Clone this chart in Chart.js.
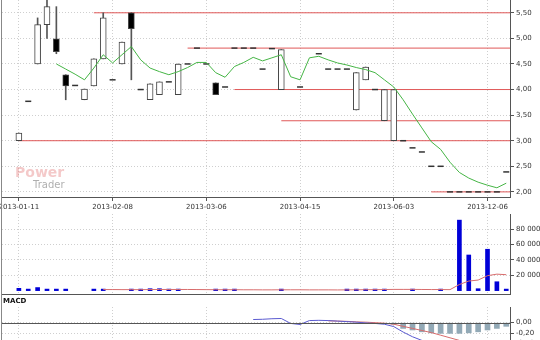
<!DOCTYPE html>
<html>
<head>
<meta charset="utf-8">
<script src="https://cdn.jsdelivr.net/npm/chart.js@4.4.1/dist/chart.umd.min.js"></script>
<style>
  html, body { margin: 0; padding: 0; background: #fff; overflow: hidden; }
  #wrap { position: relative; width: 540px; height: 340px; overflow: hidden; }
  .panel { position: absolute; left: 0; width: 540px; }
  #leftLine { position: absolute; left: 1px; top: 0; width: 1px; height: 340px; background: #888; }
</style>
</head>
<body>
<div id="wrap">
  <div class="panel" style="top:0;height:212px"><canvas id="priceChart" width="540" height="212"></canvas></div>
  <div class="panel" style="top:212px;height:84px"><canvas id="volumeChart" width="540" height="84"></canvas></div>
  <div class="panel" style="top:296px;height:70px"><canvas id="macdChart" width="540" height="70"></canvas></div>
  <div id="leftLine"></div>
</div>
<script>
// x axis labels (one every 10 sessions)
const tickIdx = [0, 10, 20, 30, 40, 50];
const tickLabels = ['2013-01-11', '2013-02-08', '2013-03-06', '2013-04-15', '2013-06-03', '2013-12-06'];

// candles, one per session (null = no trade)
const opens  = [3.00,3.77,4.50,5.27,4.99,4.29,4.08,3.80,4.07,4.60,4.19,4.50,5.50,4.00,3.80,3.90,4.15,3.90,4.50,4.81,4.50,4.13,4.05,4.81,4.81,4.81,4.40,4.80,4.00,null,4.05,null,4.70,4.40,4.40,4.40,3.60,4.19,4.00,3.39,3.00,3.00,2.86,2.78,2.50,2.50,2.00,2.00,2.00,2.00,2.00,2.00,2.39];
const highs  = [3.15,3.77,5.40,5.75,5.62,4.29,4.08,4.01,4.60,5.50,4.19,4.93,5.50,4.00,4.11,4.15,4.15,4.50,4.50,4.81,4.50,4.13,4.05,4.81,4.81,4.81,4.40,4.80,4.78,null,4.05,null,4.70,4.40,4.40,4.40,4.33,4.44,4.00,4.00,4.00,3.00,2.86,2.78,2.50,2.50,2.00,2.00,2.00,2.00,2.00,2.00,2.39];
const lows   = [3.00,3.77,4.50,5.00,4.70,3.80,4.08,3.80,4.07,4.60,4.19,4.50,4.19,4.00,3.80,3.90,4.15,3.90,4.50,4.81,4.50,3.90,4.05,4.81,4.81,4.81,4.40,4.80,4.00,null,4.05,null,4.70,4.40,4.40,4.40,3.60,4.19,4.00,3.39,3.00,3.00,2.86,2.78,2.50,2.50,2.00,2.00,2.00,2.00,2.00,2.00,2.39];
const closes = [3.15,3.77,5.27,5.62,4.74,4.07,4.08,4.01,4.60,5.40,4.19,4.93,5.19,4.00,4.11,4.15,4.15,4.50,4.50,4.81,4.50,3.90,4.05,4.81,4.81,4.81,4.40,4.80,4.78,null,4.05,null,4.70,4.40,4.40,4.40,4.33,4.44,4.00,4.00,4.00,3.00,2.86,2.78,2.50,2.50,2.00,2.00,2.00,2.00,2.00,2.00,2.39];

// moving average of price
const priceMA = [null,null,null,null,4.50,4.40,4.30,4.19,4.42,4.68,4.52,4.68,4.84,4.58,4.42,4.35,4.29,4.35,4.43,4.53,4.53,4.33,4.24,4.45,4.53,4.63,4.56,4.62,4.68,4.25,4.19,4.62,4.65,4.58,4.52,4.48,4.43,4.39,4.33,4.19,4.05,3.80,3.52,3.25,2.98,2.83,2.58,2.38,2.27,2.19,2.13,2.08,2.17];

// support / resistance levels: price and session where each starts
const levelPrices = [5.50, 4.81, 4.00, 3.39, 3.00, 2.00];
const levelStarts = [8, 18, 23, 28, 0, 44];
const priceTicks = [2.0, 2.5, 3.0, 3.5, 4.0, 4.5, 5.0, 5.5];

// volume
const volumes = [3000,2000,4000,2000,2000,2000,null,null,2000,2000,null,null,2000,2000,2500,2500,2000,2000,null,null,null,2000,2000,2000,null,null,null,null,2000,null,null,null,null,null,null,2000,2000,2000,2000,2000,null,null,2000,null,null,2000,null,92000,46500,2500,54000,11600,2000];
const volumeMA = [null,null,null,null,null,null,null,null,null,1400,1400,1300,1300,1300,1400,1500,1500,1500,1500,1400,1300,1200,1200,1200,1100,1100,1000,1000,1100,1100,1100,1000,1000,1000,900,1000,1100,1200,1300,1400,1600,1600,1600,1500,1400,1400,1300,8000,12500,13800,19500,21500,20800];
const volumeTicks = [20000, 40000, 60000, 80000];

// MACD
const macdLine = [null,null,null,null,null,null,null,null,null,null,null,null,null,null,null,null,null,null,null,null,null,null,null,null,null,0.06,0.065,0.075,0.08,-0.015,-0.035,0.04,0.045,0.04,0.03,0.02,0.01,-0.005,-0.015,-0.03,-0.075,-0.18,-0.27,-0.34,-0.40];
const signalLine = [null,null,null,null,null,null,null,null,null,null,null,null,null,null,null,null,null,null,null,null,null,null,null,null,null,null,null,null,null,null,null,null,null,0.035,0.03,0.025,0.015,0.01,0.0,-0.01,-0.03,-0.07,-0.11,-0.15,-0.19,-0.24,-0.29,-0.34];
const macdHist = [null,null,null,null,null,null,null,null,null,null,null,null,null,null,null,null,null,null,null,null,null,null,null,null,null,null,null,null,null,null,null,null,null,null,null,null,null,null,null,null,-0.03,-0.11,-0.14,-0.175,-0.195,-0.205,-0.205,-0.205,-0.195,-0.175,-0.14,-0.11,-0.07];
const macdTicks = [0, -0.2, -0.4, -0.6, -0.8];

Chart.defaults.font.family = '"DejaVu Sans", Verdana, sans-serif';
Chart.defaults.font.size = 7;
Chart.defaults.color = '#333';

const xMin = -1.8, xMax = 52.4;
const GRID = '#cfcfcf', AXIS = '#555';

function pts(arr) {
  return arr.map((v, i) => ({ x: i, y: v })).filter(p => p.y !== null && p.y !== undefined);
}

function xAxis(showLabels, height) {
  return {
    type: 'linear', min: xMin, max: xMax, offset: false,
    afterBuildTicks: s => { s.ticks = tickIdx.map(v => ({ value: v })); },
    afterFit: s => { s.height = height; s.paddingLeft = 0; s.paddingRight = 0; },
    ticks: {
      display: showLabels, autoSkip: false, maxRotation: 0, padding: 2,
      callback: v => tickLabels[tickIdx.indexOf(v)]
    },
    grid: { color: GRID, tickColor: AXIS, tickLength: 4, drawTicks: showLabels, offset: false },
    border: { display: true, color: AXIS, dash: [1, 2] }
  };
}

function yAxis(min, max, ticks, fmt) {
  return {
    position: 'right', min: min, max: max,
    afterBuildTicks: s => { s.ticks = ticks.map(v => ({ value: v })); },
    afterFit: s => { s.width = 30; s.paddingTop = 0; s.paddingBottom = 0; },
    ticks: { padding: 2, callback: fmt },
    grid: { color: GRID, tickColor: AXIS, tickLength: 4 },
    border: { display: true, color: AXIS, dash: [1, 2] }
  };
}

const baseOpts = {
  responsive: false, animation: false,
  plugins: { legend: { display: false }, tooltip: { enabled: false } }
};

// ---- price panel ----
const bodies = [], bodyColors = [], wicks = [], dashes = [];
opens.forEach((o, i) => {
  if (o === null) return;
  const c = closes[i];
  if (o === c) dashes.push({ x: i, y: c });
  else {
    bodies.push({ x: i, y: [o, c] });
    bodyColors.push(c > o ? '#ffffff' : '#000000');
  }
  if (highs[i] > lows[i]) wicks.push({ x: i, y: [lows[i], highs[i]] });
});

const levelSets = levelPrices.map((p, k) => ({
  type: 'line',
  data: [{ x: levelStarts[k], y: p }, { x: xMax, y: p }],
  borderColor: '#e05858', borderWidth: 1, pointRadius: 0, order: 5
}));

const watermark = {
  id: 'watermark',
  beforeDatasetsDraw(chart) {
    const ctx = chart.ctx;
    ctx.save();
    ctx.font = 'bold 14px "DejaVu Sans"';
    ctx.fillStyle = 'rgba(228,120,120,0.4)';
    ctx.textBaseline = 'alphabetic';
    ctx.fillText('Power', 15, 177);
    ctx.font = '10px "DejaVu Sans"';
    ctx.fillStyle = 'rgba(120,120,120,0.6)';
    ctx.fillText('Trader', 33, 188);
    ctx.restore();
  }
};

new Chart(document.getElementById('priceChart'), {
  type: 'bar',
  data: {
    datasets: [
      { type: 'line', data: pts(priceMA), borderColor: '#45b545', borderWidth: 1, pointRadius: 0, order: 1 },
      { data: bodies, backgroundColor: bodyColors, borderColor: '#444', borderWidth: 1, borderSkipped: false, barThickness: 6, grouped: false, order: 2 },
      { type: 'line', data: dashes, showLine: false, pointStyle: 'line', pointRadius: 3, borderColor: '#333', borderWidth: 1.5, order: 2 },
      { data: wicks, backgroundColor: '#555', barThickness: 1, grouped: false, order: 3 },
      ...levelSets
    ]
  },
  options: {
    ...baseOpts,
    layout: { autoPadding: false, padding: { left: 2, right: 0, top: 0, bottom: 0 } },
    scales: {
      x: xAxis(true, 15),
      y: yAxis(1.9, 5.75, priceTicks, v => v.toFixed(2).replace('.', ','))
    }
  },
  plugins: [watermark]
});

// ---- volume panel ----
new Chart(document.getElementById('volumeChart'), {
  type: 'bar',
  data: {
    datasets: [
      { type: 'line', data: pts(volumeMA), borderColor: '#d86c6c', borderWidth: 1, pointRadius: 0, order: 1 },
      { data: pts(volumes), backgroundColor: '#0000d8', barThickness: 4, grouped: false, order: 2 }
    ]
  },
  options: {
    ...baseOpts,
    layout: { autoPadding: false, padding: { left: 2, right: 0, top: 2, bottom: 2 } },
    scales: {
      x: xAxis(false, 0),
      y: yAxis(-4400, 100000, volumeTicks, v => String(v).replace(/\B(?=(\d{3})+(?!\d))/g, ' '))
    }
  }
});

// ---- MACD panel ----
const macdDecor = {
  id: 'macdDecor',
  afterDatasetsDraw(chart) {
    const { ctx, chartArea, scales } = chart;
    const y0 = Math.round(scales.y.getPixelForValue(0)) + 0.5;
    ctx.save();
    ctx.strokeStyle = AXIS;
    ctx.lineWidth = 1;
    ctx.beginPath();
    ctx.moveTo(chartArea.left, y0);
    ctx.lineTo(chartArea.right, y0);
    ctx.stroke();
    ctx.restore();
  },
  beforeDraw(chart) {
    const ctx = chart.ctx;
    ctx.save();
    ctx.font = 'bold 7px "DejaVu Sans"';
    ctx.fillStyle = '#111';
    ctx.textBaseline = 'top';
    ctx.fillText('MACD', 3, 2);
    ctx.restore();
  }
};

new Chart(document.getElementById('macdChart'), {
  type: 'bar',
  data: {
    datasets: [
      { type: 'line', data: pts(macdLine), borderColor: '#5a5ad0', borderWidth: 1, pointRadius: 0, order: 1 },
      { type: 'line', data: pts(signalLine), borderColor: '#d86c6c', borderWidth: 1, pointRadius: 0, order: 1 },
      { data: pts(macdHist), backgroundColor: '#92a9b6', barThickness: 5, grouped: false, order: 2 }
    ]
  },
  options: {
    ...baseOpts,
    layout: { autoPadding: false, padding: { left: 2, right: 0, top: 11, bottom: 0 } },
    scales: {
      x: xAxis(false, 0),
      y: yAxis(-0.83, 0.3, macdTicks, v => v.toFixed(2).replace('.', ','))
    }
  },
  plugins: [macdDecor]
});
</script>
</body>
</html>
